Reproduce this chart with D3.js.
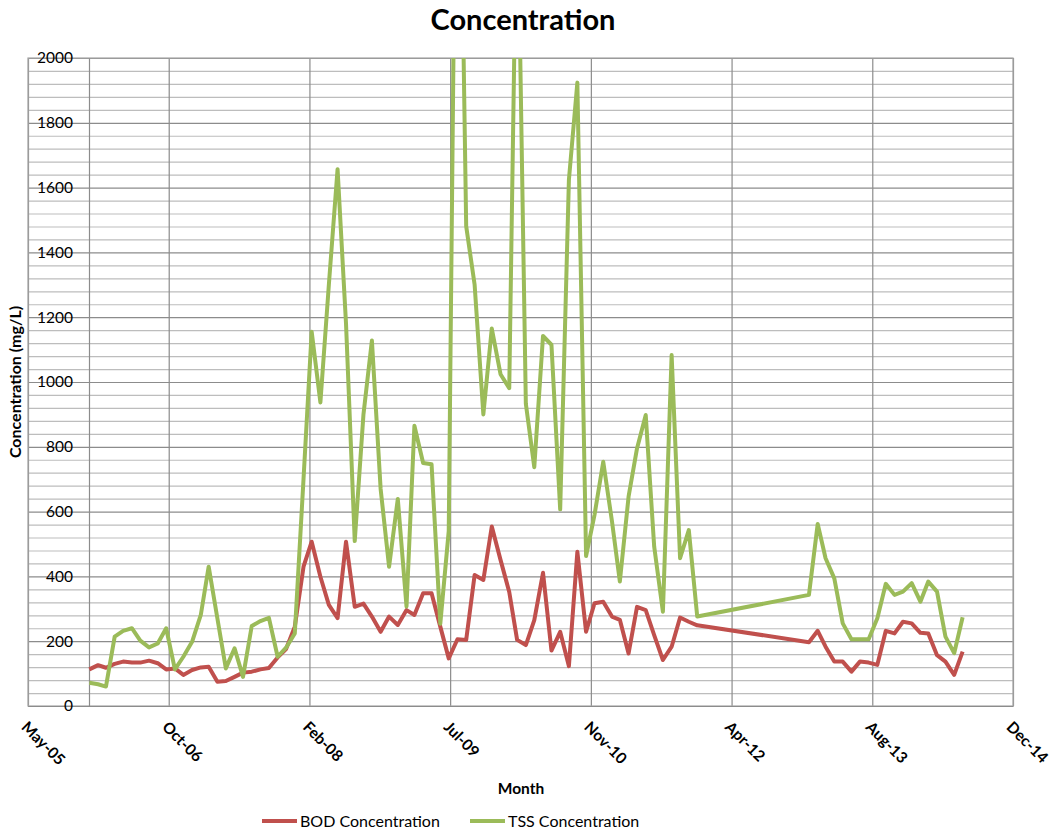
<!DOCTYPE html>
<html>
<head>
<meta charset="utf-8">
<script src="https://cdn.jsdelivr.net/npm/d3@7"></script>
<style>
  body { margin: 0; background: #fff; }
  svg { display: block; font-family: Lato, "Open Sans", sans-serif; }
</style>
</head>
<body>
<script>
// monthly samples, no readings between Jan 2012 and Dec 2012
const months = [
  "2006-01","2006-02","2006-03","2006-04","2006-05","2006-06","2006-07","2006-08","2006-09","2006-10","2006-11","2006-12",
  "2007-01","2007-02","2007-03","2007-04","2007-05","2007-06","2007-07","2007-08","2007-09","2007-10","2007-11","2007-12",
  "2008-01","2008-02","2008-03","2008-04","2008-05","2008-06","2008-07","2008-08","2008-09","2008-10","2008-11","2008-12",
  "2009-01","2009-02","2009-03","2009-04","2009-05","2009-06","2009-07","2009-08","2009-09","2009-10","2009-11","2009-12",
  "2010-01","2010-02","2010-03","2010-04","2010-05","2010-06","2010-07","2010-08","2010-09","2010-10","2010-11","2010-12",
  "2011-01","2011-02","2011-03","2011-04","2011-05","2011-06","2011-07","2011-08","2011-09","2011-10","2011-11","2011-12",
  "2013-01","2013-02","2013-03","2013-04","2013-05","2013-06","2013-07","2013-08","2013-09","2013-10","2013-11","2013-12",
  "2014-01","2014-02","2014-03","2014-04","2014-05","2014-06","2014-07"
];

const bod = [
  113,126,118,130,137,134,134,140,132,113,116,96,
  111,119,121,75,77,90,103,106,113,117,150,176,
  245,430,507,399,312,271,507,306,316,276,229,276,
  250,296,281,348,348,245,147,206,204,404,389,554,
  451,352,204,188,265,411,171,229,123,476,229,317,
  322,276,266,162,306,296,219,142,183,273,260,249,
  197,232,183,137,137,106,137,134,127,232,224,260,
  255,226,224,157,137,96,168
];

const tss = [
  72,67,60,214,232,240,202,181,193,240,113,152,
  198,281,430,270,116,178,90,247,262,272,152,180,
  224,700,1155,937,1300,1657,1180,509,900,1128,670,430,
  639,307,865,750,746,254,540,3250,1481,1300,900,1165,
  1024,981,2600,933,737,1142,1115,607,1624,1924,463,590,
  754,570,384,646,795,898,492,291,1083,456,543,276,
  343,562,456,394,255,206,206,206,271,377,343,353,
  379,322,384,353,214,163,274
];

const seriesNames = ["BOD Concentration", "TSS Concentration"];
const seriesColors = ["#C0504D", "#9BBB59"];

// date axis: 500-day steps like the spreadsheet axis
const xStart = "2005-05-28";
const xEnd = "2014-12-27";
const xStepDays = 500;
const yMajor = [0, 200, 400, 600, 800, 1000, 1200, 1400, 1600, 1800, 2000];
const yMinorStep = 40;

const W = 1052, H = 832;
const m = { left: 28, right: 1013, top: 58, bottom: 706 };

const parseDay = d3.timeParse("%Y-%m-%d");
const parseMonth = d3.timeParse("%Y-%m");
const d0 = parseDay(xStart), d1 = parseDay(xEnd);

const x = d3.scaleTime().domain([d0, d1]).range([m.left, m.right]);
const y = d3.scaleLinear().domain([0, 2000]).range([m.bottom, m.top]);

const xTicks = d3.range(0, d3.timeDay.count(d0, d1) + 1, xStepDays).map(n => d3.timeDay.offset(d0, n));
const yMinor = d3.range(0, 2001, yMinorStep).filter(v => v % 200 !== 0);

const data = months.map((mo, i) => ({ date: parseMonth(mo), bod: bod[i], tss: tss[i] }));

const svg = d3.select("body").append("svg")
  .attr("width", W).attr("height", H);

svg.append("rect").attr("width", W).attr("height", H).attr("fill", "#fff");

// minor gridlines
svg.append("g")
  .attr("transform", `translate(${m.left},0)`)
  .call(d3.axisLeft(y).tickValues(yMinor).tickSize(-(m.right - m.left)).tickFormat(""))
  .call(g => g.select(".domain").remove())
  .call(g => g.selectAll("line").attr("stroke", "#bdbdbd").attr("stroke-width", 1.2));

// major gridlines
svg.append("g")
  .attr("transform", `translate(${m.left},0)`)
  .call(d3.axisLeft(y).tickValues(yMajor).tickSize(-(m.right - m.left)).tickFormat(""))
  .call(g => g.select(".domain").remove())
  .call(g => g.selectAll("line").attr("stroke", "#8c8c8c").attr("stroke-width", 1.2));

// vertical gridlines
svg.append("g")
  .attr("transform", `translate(0,${m.bottom})`)
  .call(d3.axisBottom(x).tickValues(xTicks).tickSize(-(m.bottom - m.top)).tickFormat(""))
  .call(g => g.select(".domain").remove())
  .call(g => g.selectAll("line").attr("stroke", "#8c8c8c").attr("stroke-width", 1.2));

// plot border
svg.append("rect")
  .attr("x", m.left).attr("y", m.top)
  .attr("width", m.right - m.left).attr("height", m.bottom - m.top)
  .attr("fill", "none").attr("stroke", "#a6a6a6").attr("stroke-width", 1.2);

// horizontal axis with rotated date labels
const xAxis = svg.append("g")
  .attr("transform", `translate(0,${m.bottom})`)
  .call(d3.axisBottom(x).tickValues(xTicks).tickSize(0).tickFormat(d3.timeFormat("%b-%y")));
xAxis.select(".domain").attr("stroke", "#8c8c8c").attr("stroke-width", 1.2);
xAxis.selectAll("text")
  .attr("font-family", "Lato, sans-serif")
  .attr("font-size", 15.5).attr("font-weight", "bold").attr("fill", "#000")
  .attr("text-anchor", "start")
  .attr("dy", null).attr("y", null)
  .attr("transform", "translate(-8,22) rotate(45)");

// vertical axis crosses at the first sample
const yAxis = svg.append("g")
  .attr("transform", `translate(${Math.round(x(data[0].date))},0)`)
  .call(d3.axisLeft(y).tickValues(yMajor).tickSize(0).tickPadding(16).tickFormat(d3.format("d")));
yAxis.select(".domain").attr("stroke", "#8c8c8c").attr("stroke-width", 1.2);
yAxis.selectAll("text")
  .attr("font-family", "Lato, sans-serif")
  .attr("font-size", 15.5).attr("fill", "#000");

// series lines
svg.append("clipPath").attr("id", "plot")
  .append("rect")
  .attr("x", m.left).attr("y", m.top)
  .attr("width", m.right - m.left).attr("height", m.bottom - m.top);

const keys = ["bod", "tss"];
svg.append("g")
  .attr("clip-path", "url(#plot)")
  .selectAll("path")
  .data(keys)
  .join("path")
  .attr("fill", "none")
  .attr("stroke", (k, i) => seriesColors[i])
  .attr("stroke-width", 4)
  .attr("stroke-linejoin", "round")
  .attr("d", k => d3.line().x(d => x(d.date)).y(d => y(d[k]))(data));

// titles
svg.append("text")
  .attr("x", 523).attr("y", 30)
  .attr("text-anchor", "middle")
  .attr("font-size", 29).attr("font-weight", "bold")
  .text("Concentration");

svg.append("text")
  .attr("x", 521).attr("y", 794)
  .attr("text-anchor", "middle")
  .attr("font-size", 15.5).attr("font-weight", "bold")
  .text("Month");

svg.append("text")
  .attr("transform", "translate(21,382) rotate(-90)")
  .attr("text-anchor", "middle")
  .attr("font-size", 16).attr("font-weight", "bold")
  .text("Concentration (mg/L)");

// legend
const legend = svg.append("g").attr("font-size", 16);
const legendX = [262, 470];
seriesNames.forEach((name, i) => {
  const g = legend.append("g").attr("transform", `translate(${legendX[i]},821)`);
  g.append("line").attr("x1", 0).attr("x2", 35)
    .attr("stroke", seriesColors[i]).attr("stroke-width", 4);
  g.append("text").attr("x", 38).attr("dy", "0.35em").text(name);
});
</script>
</body>
</html>
